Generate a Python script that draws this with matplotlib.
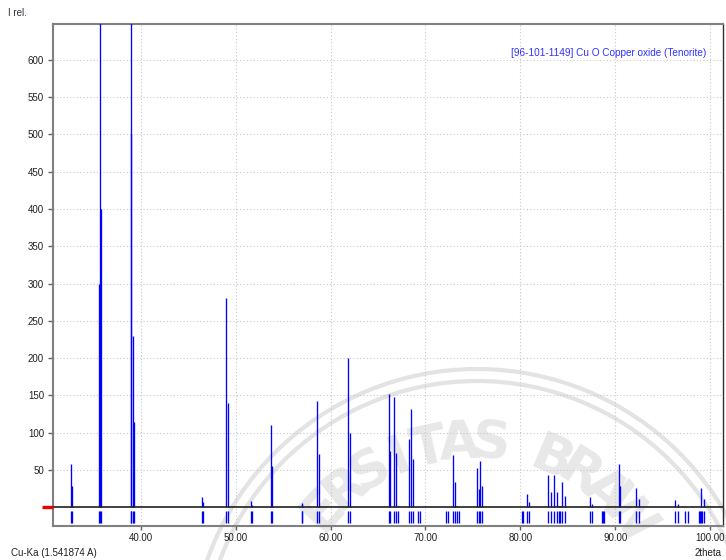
import numpy as np
import matplotlib
matplotlib.use("Agg")
import matplotlib.pyplot as plt
from matplotlib.patches import Arc

# Reference pattern: CuO (Tenorite), card 96-101-1149
two_theta = [32.65, 32.72, 35.55, 35.65, 35.75, 38.91, 38.98, 39.19, 39.29,
             46.46, 46.55, 49.00, 49.21, 51.63, 51.70, 53.68, 53.78,
             56.95, 57.02, 58.59, 58.80, 61.83, 62.01,
             66.12, 66.29, 66.71, 66.92, 67.05, 68.29, 68.47, 68.68,
             69.25, 69.45, 72.16, 72.37, 72.87, 73.14, 73.35, 73.55,
             75.46, 75.67, 75.78, 75.96, 80.14, 80.31, 80.74, 80.92,
             82.95, 83.27, 83.58, 83.90, 84.08, 84.18, 84.36, 84.68,
             87.32, 87.60, 88.62, 88.72, 88.84, 90.37, 90.54,
             92.16, 92.49, 96.26, 96.60, 97.38, 97.72,
             98.82, 98.92, 99.05, 99.20, 99.34]
intensity = [58, 29, 300, 1000, 400, 970, 500, 230, 115,
             14, 7, 280, 140, 8, 3, 110, 55,
             6, 4, 143, 72, 200, 100,
             152, 75, 148, 73, 2, 92, 132, 65,
             1, 1, 1, 1, 70, 34, 2, 1,
             53, 25, 62, 28, 1, 1, 18, 7,
             44, 20, 44, 20, 2, 2, 34, 15,
             14, 5, 1, 1, 1, 58, 28,
             26, 11, 10, 4, 1, 1,
             1, 1, 26, 1, 11]

x_ticks = [40, 50, 60, 70, 80, 90, 100]
y_ticks = [50, 100, 150, 200, 250, 300, 350, 400, 450, 500, 550, 600]

card_label = "[96-101-1149] Cu O Copper oxide (Tenorite)"
y_title = "I rel."
x_title = "2theta"
wavelength = "Cu-Ka (1.541874 A)"

plt.rcParams['font.family'] = ['Liberation Sans', 'DejaVu Sans']

W, H = 726, 560
fig = plt.figure(figsize=(W / 100, H / 100), dpi=100)
fig.patch.set_facecolor("white")

# faint seal in the background, laid out in inches from the lower-left corner
cx, cy = 4.77, (H - 655) / 100
ring_col = "#e3e3e3"
for r in (2.74, 2.86):
    fig.add_artist(Arc((cx, cy), 2 * r, 2 * r, theta1=0, theta2=180,
                       transform=fig.dpi_scale_trans, color=ring_col,
                       lw=3.0, zorder=-2))

seal_text = "UNIVERSITAS BRAWIJAYA"
tcx, tcy = 4.72, cy + 0.10
r_txt = 2.02
start, step = 138.0 + 4 * 8.9, 8.9
for i, ch in enumerate(seal_text):
    th = start - i * step
    if ch == " " or not (36 <= th <= 145):
        continue
    t = np.deg2rad(th)
    fig.text(tcx + r_txt * np.cos(t), tcy + r_txt * np.sin(t), ch,
             transform=fig.dpi_scale_trans, fontsize=38, fontweight='bold',
             color="#e8e8e8", ha='center', va='center',
             rotation=th - 90, rotation_mode='anchor',
             family='DejaVu Sans', zorder=-2)

left, right = 53 / W, 722.7 / W
bottom, top = (H - 526) / H, (H - 24) / H
ax = fig.add_axes([left, bottom, right - left, top - bottom])
ax.patch.set_alpha(0)

ax.set_xlim(30.72, 101.34)
ax.set_ylim(-25, 648)

# peaks above the baseline
ax.vlines(two_theta, 0, intensity, colors="#0000ff", lw=0.95, zorder=3)
# stick marks in the strip under the baseline
ax.vlines(two_theta, -5, -20.6, colors="#0000ff", lw=0.95, zorder=3)

ax.axhline(0, color="#202020", lw=1.2, zorder=4)
# red marker at the zero level
ax.plot([-0.0165, 0], [0, 0], transform=ax.get_yaxis_transform(),
        color="#ee0000", lw=2.4, clip_on=False, solid_capstyle='butt', zorder=5)

ax.set_xticks(x_ticks)
ax.set_xticklabels([f"{v:.2f}" for v in x_ticks])
ax.set_yticks(y_ticks)
ax.tick_params(axis='both', labelsize=7, colors="#606060", labelcolor="#202020",
               width=1, direction='out')
ax.tick_params(axis='x', length=3, pad=2)
ax.tick_params(axis='y', length=3.5, pad=3)

ax.grid(True, color="#c8c8c8", linestyle=(0, (1, 2)), lw=0.8)
ax.set_axisbelow(True)

for side in ("left", "top", "bottom"):
    ax.spines[side].set_color("#808080")
    ax.spines[side].set_linewidth(1.5)
ax.spines["right"].set_color("#303030")
ax.spines["right"].set_linewidth(1.0)

ax.text((706 - 53) / (722.7 - 53), 0.943, card_label, transform=ax.transAxes,
        ha='right', va='center', fontsize=7.2, color="#3030ff")

fig.text(8 / W, 1 - 13 / H, y_title, ha='left', va='center', fontsize=7,
         color="#303040")
fig.text(11 / W, 1 - 553 / H, wavelength, ha='left', va='center', fontsize=7,
         color="#202020")
fig.text(722 / W, 1 - 553 / H, x_title, ha='right', va='center', fontsize=7,
         color="#202020")

fig.savefig("out.png", dpi=100)
